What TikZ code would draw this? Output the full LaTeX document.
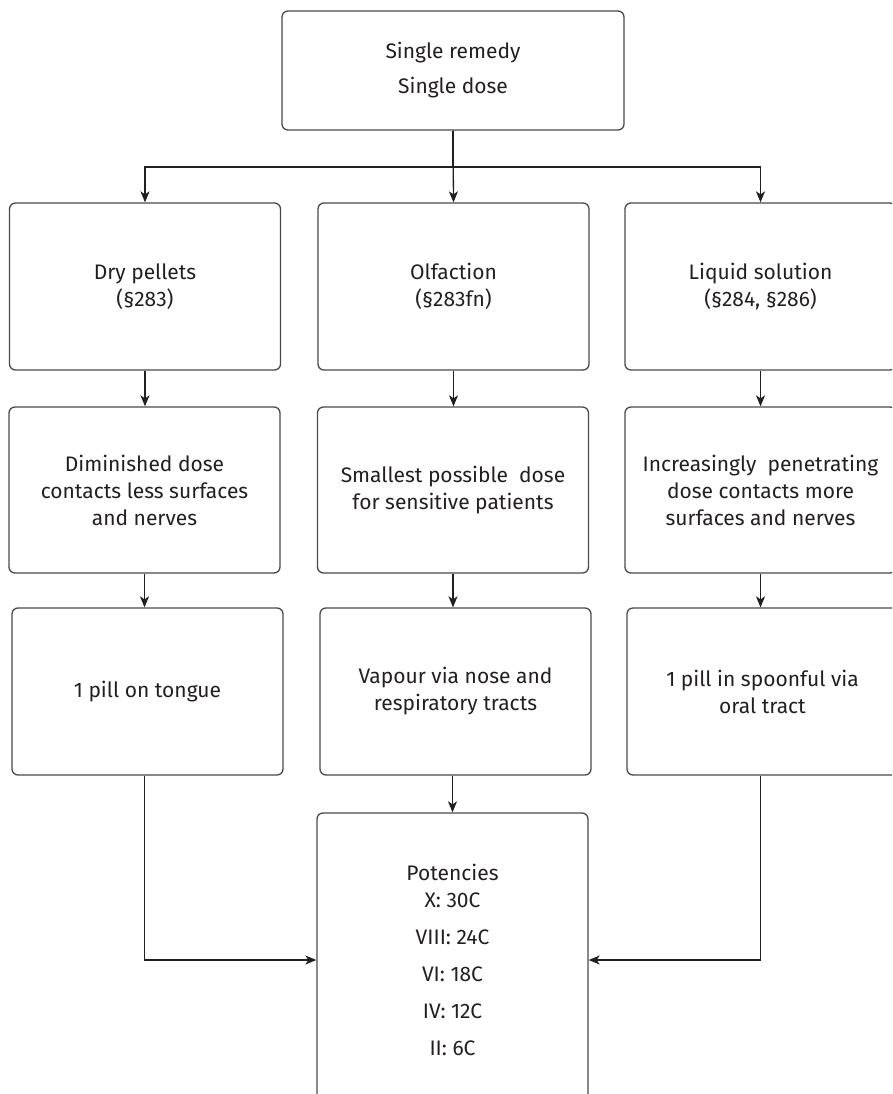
\documentclass[tikz,border=0pt]{standalone}
\usepackage{fontspec}
\setmainfont{Fira Sans}
\usetikzlibrary{arrows.meta}
\definecolor{ink}{HTML}{231F20}
\definecolor{edge}{HTML}{4A4A4A}
\begin{document}
\begin{tikzpicture}[x=1pt,y=-1pt,
  box/.style={draw=edge,line width=1.3pt,rounded corners=6pt,align=center,
    text=ink,inner sep=0pt,font=\fontsize{21}{27}\selectfont,
    minimum width=271pt,minimum height=167pt},
  link/.style={draw=ink,line width=1.3pt,-{Stealth[length=11pt,width=9pt,inset=3pt]}}]
\useasboundingbox (0,0) rectangle (892,1094);
\clip (0,0) rectangle (892,1094);
% source
\node[box,minimum width=342pt,minimum height=119pt] (src) at (453,70.5)
  {Single remedy\\[8pt]Single dose};
% modes of administration
\node[box] (m1) at (145,286.5) {Dry pellets\\(§283)};
\node[box] (m2) at (453.5,286.5) {Olfaction\\(§283fn)};
\node[box] (m3) at (760.5,286.5) {Liquid solution\\(§284, §286)};
% effect of each mode
\node[box,minimum height=166pt] (e1) at (144.5,490) {Diminished dose\\contacts less surfaces\\and nerves};
\node[box,minimum height=166pt] (e2) at (453,490) {Smallest possible\ \ dose\\for sensitive patients};
\node[box,minimum height=166pt] (e3) at (760.5,490) {Increasingly\ \ penetrating\\dose contacts more\\surfaces and nerves};
% route
\node[box] (r1) at (147.5,691.5) {1 pill on tongue};
\node[box] (r2) at (455.5,691.5) {Vapour via nose and\\respiratory tracts};
\node[box] (r3) at (762.5,691.5) {1 pill in spoonful via\\oral tract};
% potencies
\node[box,minimum height=294pt] (pot) at (452.5,960)
  {Potencies\\X: 30C\\[10pt]VIII: 24C\\[10pt]VI: 18C\\[10pt]IV: 12C\\[10pt]II: 6C};
% connectors
\coordinate (split) at (453,167);
\draw[link] (src.south) -- (split) -| (m1.north);
\draw[link] (src.south) -- (m2.north);
\draw[link] (split) -| (m3.north);
\draw[link] (m1.south) -- (m1.south |- e1.north);
\draw[link] (m2.south) -- (m2.south |- e2.north);
\draw[link] (m3.south) -- (m3.south |- e3.north);
\draw[link] (e1.south) -- (e1.south |- r1.north);
\draw[link] (e2.south) -- (e2.south |- r2.north);
\draw[link] (e3.south) -- (e3.south |- r3.north);
\draw[link] (r1.south -| e1.south) |- (pot.west);
\draw[link] (r2.south -| pot.north) -- (pot.north);
\draw[link] (r3.south -| e3.south) |- (pot.east);
\end{tikzpicture}
\end{document}
